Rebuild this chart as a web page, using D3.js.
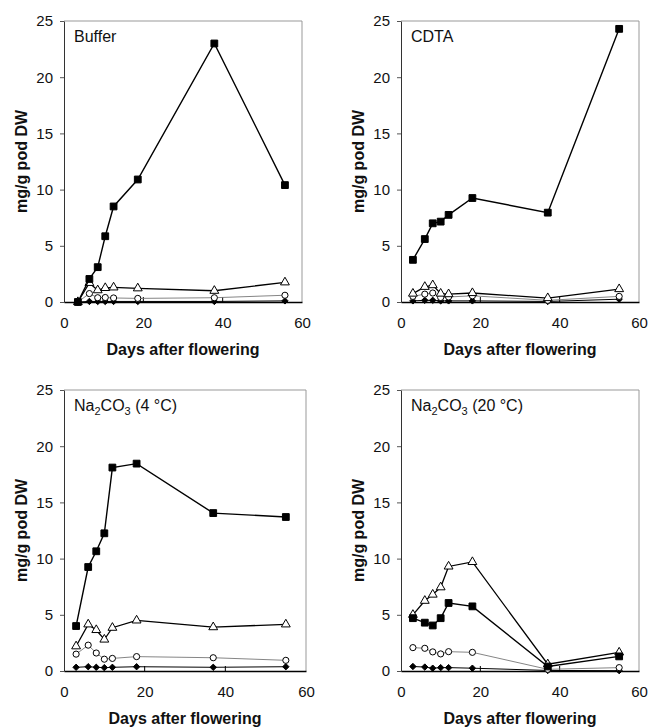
<!DOCTYPE html>
<html>
<head>
<meta charset="utf-8">
<script src="https://cdn.jsdelivr.net/npm/d3@7"></script>
<style>
  body { margin: 0; background: #fff; }
  svg text { font-family: "Liberation Sans", Arial, sans-serif; fill: #111; }
</style>
</head>
<body>
<svg id="chart" width="650" height="728"></svg>
<script>
// sampling days (days after flowering)
var days = [3, 6, 8, 10, 12, 18, 37, 55];
var bufferDays = [3.5, 6.4, 8.5, 10.4, 12.5, 18.6, 37.9, 55.7];

var yTicks = [0, 5, 10, 15, 20, 25];
var xTicks = [0, 20, 40, 60];

// Buffer
var bufferSquare   = [0, 2.05, 3.1, 5.85, 8.5, 10.9, 23.0, 10.4];
var bufferTriangle = [0, 1.7, 1.05, 1.25, 1.3, 1.22, 1.0, 1.75];
var bufferCircle   = [0, 0.75, 0.38, 0.4, 0.36, 0.32, 0.38, 0.6];
var bufferDiamond  = [0, 0.05, 0.05, 0.05, 0.05, 0.05, 0.05, 0.1];

// CDTA
var cdtaSquare   = [3.75, 5.6, 7.0, 7.15, 7.75, 9.25, 7.95, 24.3];
var cdtaTriangle = [0.75, 1.35, 1.5, 0.75, 0.7, 0.8, 0.35, 1.15];
var cdtaCircle   = [0.5, 0.7, 0.8, 0.4, 0.45, 0.55, 0.15, 0.5];
var cdtaDiamond  = [0.1, 0.15, 0.15, 0.1, 0.1, 0.1, 0.05, 0.25];

// Na2CO3 (4 °C)
var cold4Square   = [4.0, 9.25, 10.65, 12.25, 18.1, 18.45, 14.05, 13.7];
var cold4Triangle = [2.2, 4.15, 3.65, 2.8, 3.85, 4.5, 3.9, 4.15];
var cold4Circle   = [1.5, 2.3, 1.6, 1.05, 1.12, 1.28, 1.18, 0.95];
var cold4Diamond  = [0.33, 0.38, 0.33, 0.3, 0.33, 0.38, 0.33, 0.38];

// Na2CO3 (20 °C)
var warm20Square   = [4.7, 4.3, 4.05, 4.7, 6.05, 5.75, 0.4, 1.3];
var warm20Triangle = [5.0, 6.25, 6.8, 7.45, 9.3, 9.7, 0.6, 1.65];
var warm20Circle   = [2.08, 2.02, 1.7, 1.52, 1.72, 1.66, 0.15, 0.3];
var warm20Diamond  = [0.4, 0.35, 0.25, 0.3, 0.3, 0.25, 0.05, 0.03];

var svg = d3.select('#chart');

var panels = [
  { label: ['Buffer'], left: 64, right: 302, top: 21, bottom: 302, titleX: 21,
    days: bufferDays, square: bufferSquare, triangle: bufferTriangle, circle: bufferCircle, diamond: bufferDiamond },
  { label: ['CDTA'], left: 401, right: 639, top: 21, bottom: 302, titleX: 358,
    days: days, square: cdtaSquare, triangle: cdtaTriangle, circle: cdtaCircle, diamond: cdtaDiamond },
  { label: ['Na', '2', 'CO', '3', ' (4 °C)'], left: 64, right: 306, top: 390, bottom: 671, titleX: 21,
    days: days, square: cold4Square, triangle: cold4Triangle, circle: cold4Circle, diamond: cold4Diamond },
  { label: ['Na', '2', 'CO', '3', ' (20 °C)'], left: 401, right: 639, top: 390, bottom: 671, titleX: 358,
    days: days, square: warm20Square, triangle: warm20Triangle, circle: warm20Circle, diamond: warm20Diamond }
];

// marker / line style per series
var seriesStyle = [
  { key: 'diamond',  symbol: d3.symbolDiamond2, size: 26, fill: '#000', stroke: '#000', line: '#000', width: 1 },
  { key: 'circle',   symbol: d3.symbolCircle,   size: 30, fill: '#fff', stroke: '#000', line: '#777', width: 0.9 },
  { key: 'triangle', symbol: d3.symbolTriangle, size: 34, fill: '#fff', stroke: '#000', line: '#000', width: 1.3 },
  { key: 'square',   symbol: d3.symbolSquare,   size: 46, fill: '#000', stroke: '#000', line: '#000', width: 1.4 }
];

panels.forEach(function (p) {
  var x = d3.scaleLinear().domain([0, 60]).range([p.left, p.right]);
  var y = d3.scaleLinear().domain([0, 25]).range([p.bottom, p.top]);
  var g = svg.append('g');

  // frame (top and right)
  g.append('path')
    .attr('d', 'M' + p.left + ',' + p.top + 'H' + p.right + 'V' + p.bottom)
    .attr('fill', 'none').attr('stroke', '#999').attr('stroke-width', 1);

  // y axis
  var yAxis = g.append('g')
    .attr('transform', 'translate(' + p.left + ',0)')
    .call(d3.axisLeft(y).tickValues(yTicks).tickSize(4).tickPadding(7).tickSizeOuter(0));
  yAxis.select('.domain').attr('stroke', '#333');
  yAxis.selectAll('.tick line').attr('stroke', '#555');
  yAxis.selectAll('text').style('font-size', '15px');

  // x axis
  var xAxis = g.append('g')
    .attr('transform', 'translate(0,' + p.bottom + ')')
    .call(d3.axisBottom(x).tickValues(xTicks).tickSize(0).tickPadding(15));
  xAxis.select('.domain').attr('stroke', '#000').attr('stroke-width', 1.5);
  xAxis.selectAll('text').style('font-size', '15px');

  // inward x ticks
  g.selectAll('.xin').data([20, 40]).enter().append('line')
    .attr('x1', function (d) { return x(d); }).attr('x2', function (d) { return x(d); })
    .attr('y1', p.bottom).attr('y2', p.bottom - 5)
    .attr('stroke', '#000');

  // axis titles
  g.append('text')
    .attr('x', (p.left + p.right) / 2).attr('y', p.bottom + 53)
    .attr('text-anchor', 'middle')
    .style('font-size', '16px').style('font-weight', 'bold')
    .text('Days after flowering');

  g.append('text')
    .attr('transform', 'translate(' + p.titleX + ',' + (p.top + p.bottom) / 2 + ') rotate(-90)')
    .attr('text-anchor', 'middle').attr('dy', '0.35em')
    .style('font-size', '16px').style('font-weight', 'bold')
    .text('mg/g pod DW');

  // panel label
  var lab = g.append('text')
    .attr('x', p.left + 10).attr('y', p.top + 21)
    .style('font-size', '16px');
  p.label.forEach(function (s, i) {
    var t = lab.append('tspan').text(s);
    if (p.label.length > 1 && (i === 1 || i === 3)) {
      t.attr('dy', 4).style('font-size', '11px');
    } else if (i > 1) {
      t.attr('dy', -4);
    }
  });

  // series lines and markers
  seriesStyle.forEach(function (s) {
    var vals = p[s.key];
    var pts = vals.map(function (v, i) { return [p.days[i], v]; });
    var line = d3.line()
      .x(function (d) { return x(d[0]); })
      .y(function (d) { return y(d[1]); });

    g.append('path')
      .attr('d', line(pts))
      .attr('fill', 'none')
      .attr('stroke', s.line)
      .attr('stroke-width', s.width);

    g.selectAll(null).data(pts).enter().append('path')
      .attr('transform', function (d) { return 'translate(' + x(d[0]) + ',' + y(d[1]) + ')'; })
      .attr('d', d3.symbol().type(s.symbol).size(s.size))
      .attr('fill', s.fill)
      .attr('stroke', s.stroke)
      .attr('stroke-width', 1);
  });
});
</script>
</body>
</html>
